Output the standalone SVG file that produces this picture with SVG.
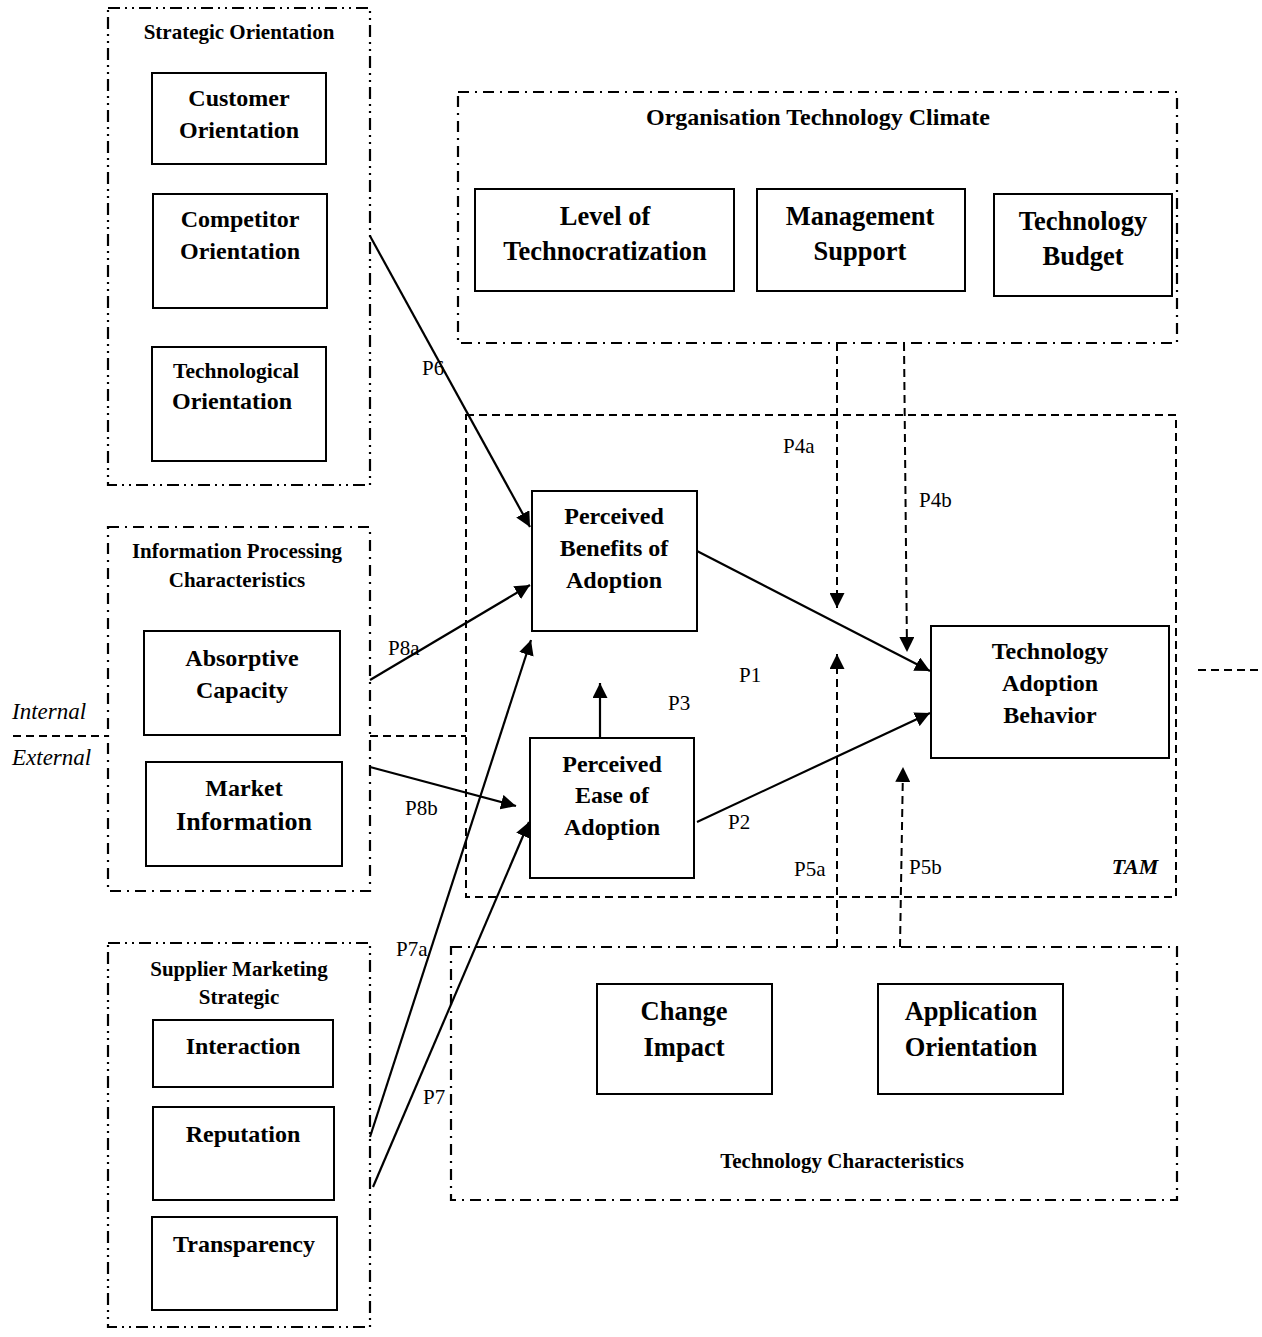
<svg xmlns="http://www.w3.org/2000/svg" width="1262" height="1337" viewBox="0 0 1262 1337">
<style>
text{font-family:"Liberation Serif","Times New Roman",serif;fill:#000;text-anchor:middle}
.g{font-size:21px;font-weight:bold}
.n{font-size:24px;font-weight:bold}
.L{font-size:26.5px;font-weight:bold}
.p{font-size:21px;text-anchor:start}
.i{font-size:23px;font-style:italic;text-anchor:start}
.box{fill:#fff;stroke:#000;stroke-width:2}
.dd{fill:none;stroke:#000;stroke-width:2.2;stroke-dasharray:12 5 2 5 2 5}
.d1{fill:none;stroke:#000;stroke-width:2.2;stroke-dasharray:11 6 2 6}
.da{fill:none;stroke:#000;stroke-width:2;stroke-dasharray:8 5}
.c{fill:none;stroke:#000;stroke-width:2.2}
</style>
<defs>
<marker id="ah" viewBox="0 0 10 10" refX="10" refY="5" markerWidth="15" markerHeight="15" markerUnits="userSpaceOnUse" orient="auto">
<path d="M0,0 L10,5 L0,10 z" fill="#000"/>
</marker>
</defs>

<g id="frames">
<rect id="strategic-orientation" class="dd" x="108" y="8" width="262" height="477"/>
<rect id="information-processing" class="d1" x="108" y="527" width="262" height="364"/>
<rect id="supplier-marketing" class="dd" x="108" y="943" width="262" height="384"/>
<rect id="organisation-climate" class="d1" x="458" y="92" width="719" height="251"/>
<rect id="technology-characteristics" class="d1" x="451" y="947" width="726" height="253"/>
<rect id="tam" class="da" x="466" y="415" width="710" height="482"/>
</g>

<g id="connectors">
<line class="da" x1="13" y1="736" x2="108" y2="736"/>
<line class="da" x1="370" y1="736" x2="466" y2="736"/>
<line class="da" x1="1198" y1="670" x2="1262" y2="670"/>
<line class="c" x1="370" y1="236" x2="530" y2="527" marker-end="url(#ah)"/>
<line class="c" x1="370" y1="680" x2="530" y2="585" marker-end="url(#ah)"/>
<line class="c" x1="370" y1="767" x2="516" y2="806" marker-end="url(#ah)"/>
<line class="c" x1="370" y1="1137" x2="531" y2="640" marker-end="url(#ah)"/>
<line class="c" x1="373" y1="1187" x2="529" y2="822" marker-end="url(#ah)"/>
<line class="c" x1="600" y1="738" x2="600" y2="683" marker-end="url(#ah)"/>
<line class="c" x1="697" y1="551" x2="930" y2="671" marker-end="url(#ah)"/>
<line class="c" x1="697" y1="822" x2="930" y2="713" marker-end="url(#ah)"/>
<line class="da" x1="837" y1="343" x2="837" y2="608" marker-end="url(#ah)"/>
<line class="da" x1="904" y1="343" x2="907" y2="652" marker-end="url(#ah)"/>
<line class="da" x1="837" y1="947" x2="837" y2="654" marker-end="url(#ah)"/>
<line class="da" x1="900" y1="947" x2="903" y2="767" marker-end="url(#ah)"/>
</g>

<g id="labels">
<text class="p" x="422" y="375">P6</text>
<text class="p" x="388" y="655">P8a</text>
<text class="p" x="405" y="815">P8b</text>
<text class="p" x="396" y="956">P7a</text>
<text class="p" x="423" y="1104">P7</text>
<text class="p" x="668" y="710">P3</text>
<text class="p" x="739" y="682">P1</text>
<text class="p" x="728" y="829">P2</text>
<text class="p" x="783" y="453">P4a</text>
<text class="p" x="919" y="507">P4b</text>
<text class="p" x="794" y="876">P5a</text>
<text class="p" x="909" y="874">P5b</text>
<text class="i" x="12" y="719">Internal</text>
<text class="i" x="12" y="765">External</text>
<text x="1135" y="874" class="g" style="font-style:italic;font-size:22px">TAM</text>
<text x="239" y="39" class="g">Strategic Orientation</text>
<text x="237" y="558" class="g">Information Processing</text>
<text x="237" y="587" class="g">Characteristics</text>
<text x="239" y="976" class="g">Supplier Marketing</text>
<text x="239" y="1004" class="g">Strategic</text>
<text x="818" y="125" class="g" style="font-size:24px">Organisation Technology Climate</text>
<text x="842" y="1168" class="g">Technology Characteristics</text>
</g>

<g id="customer-orientation"><rect class="box" x="152" y="73" width="174" height="91"/>
<text class="n" x="239" y="106">Customer</text><text class="n" x="239" y="138">Orientation</text></g>
<g id="competitor-orientation"><rect class="box" x="153" y="194" width="174" height="114"/>
<text class="n" x="240" y="227">Competitor</text><text class="n" x="240" y="259">Orientation</text></g>
<g id="technological-orientation"><rect class="box" x="152" y="347" width="174" height="114"/>
<text class="n" x="236" y="378" style="font-size:21.5px">Technological</text><text class="n" x="232" y="409">Orientation</text></g>

<g id="absorptive-capacity"><rect class="box" x="144" y="631" width="196" height="104"/>
<text class="n" x="242" y="666">Absorptive</text><text class="n" x="242" y="698">Capacity</text></g>
<g id="market-information"><rect class="box" x="146" y="762" width="196" height="104"/>
<text class="n" x="244" y="796">Market</text><text class="n" x="244" y="830" style="font-size:26px">Information</text></g>

<g id="interaction"><rect class="box" x="153" y="1020" width="180" height="67"/>
<text class="n" x="243" y="1054">Interaction</text></g>
<g id="reputation"><rect class="box" x="153" y="1107" width="181" height="93"/>
<text class="n" x="243" y="1142">Reputation</text></g>
<g id="transparency"><rect class="box" x="152" y="1217" width="185" height="93"/>
<text class="n" x="244" y="1252">Transparency</text></g>

<g id="level-of-technocratization"><rect class="box" x="475" y="189" width="259" height="102"/>
<text class="L" x="605" y="225">Level of</text><text class="L" x="605" y="260">Technocratization</text></g>
<g id="management-support"><rect class="box" x="757" y="189" width="208" height="102"/>
<text class="L" x="860" y="225">Management</text><text class="L" x="860" y="260">Support</text></g>
<g id="technology-budget"><rect class="box" x="994" y="194" width="178" height="102"/>
<text class="L" x="1083" y="230">Technology</text><text class="L" x="1083" y="265">Budget</text></g>

<g id="perceived-benefits"><rect class="box" x="532" y="491" width="165" height="140"/>
<text class="n" x="614" y="524">Perceived</text><text class="n" x="614" y="556">Benefits of</text><text class="n" x="614" y="588">Adoption</text></g>
<g id="perceived-ease"><rect class="box" x="530" y="738" width="164" height="140"/>
<text class="n" x="612" y="772">Perceived</text><text class="n" x="612" y="803">Ease of</text><text class="n" x="612" y="835">Adoption</text></g>
<g id="technology-adoption-behavior"><rect class="box" x="931" y="626" width="238" height="132"/>
<text class="n" x="1050" y="659">Technology</text><text class="n" x="1050" y="691">Adoption</text><text class="n" x="1050" y="723">Behavior</text></g>

<g id="change-impact"><rect class="box" x="597" y="984" width="175" height="110"/>
<text class="L" x="684" y="1020">Change</text><text class="L" x="684" y="1056">Impact</text></g>
<g id="application-orientation"><rect class="box" x="878" y="984" width="185" height="110"/>
<text class="L" x="971" y="1020">Application</text><text class="L" x="971" y="1056">Orientation</text></g>
</svg>
